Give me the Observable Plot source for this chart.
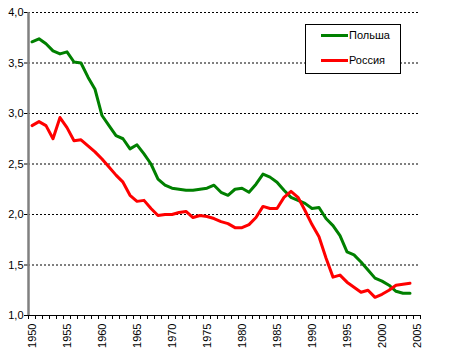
<!DOCTYPE html>
<html>
<head>
<meta charset="utf-8">
<script src="https://cdn.jsdelivr.net/npm/d3@7"></script>
<script src="https://cdn.jsdelivr.net/npm/@observablehq/plot@0.6"></script>
<style>
  body { margin: 0; background: #fff; }
  #wrap { position: relative; width: 450px; height: 355px; }
  #legend { position: absolute; left: 305px; top: 24px; width: 94px; height: 48px; background: #fff; border: 1px solid #000; font: 11px "Liberation Sans", Arial, sans-serif; }
  .item { position: absolute; left: 15px; display: flex; align-items: center; }
  .sw { width: 27px; height: 3px; margin-right: 1px; }
</style>
</head>
<body>
<div id="wrap"></div>
<script>
const years = d3.range(1950, 2005);
const poland = [3.71,3.74,3.69,3.62,3.59,3.61,3.51,3.50,3.36,3.24,2.98,2.88,2.78,2.75,2.65,2.69,2.60,2.50,2.35,2.29,2.26,2.25,2.24,2.24,2.25,2.26,2.29,2.22,2.19,2.25,2.26,2.22,2.30,2.40,2.37,2.32,2.24,2.17,2.14,2.11,2.06,2.07,1.96,1.89,1.79,1.63,1.60,1.53,1.45,1.37,1.34,1.30,1.24,1.22,1.22];
const russia = [2.88,2.92,2.88,2.75,2.96,2.86,2.73,2.74,2.68,2.62,2.55,2.47,2.39,2.32,2.19,2.13,2.14,2.06,1.99,2.00,2.00,2.02,2.03,1.97,1.99,1.98,1.96,1.93,1.91,1.87,1.87,1.90,1.97,2.08,2.06,2.06,2.17,2.23,2.17,2.04,1.90,1.78,1.57,1.38,1.40,1.33,1.28,1.23,1.25,1.18,1.21,1.25,1.30,1.31,1.32];
const yTicks = [1.0,1.5,2.0,2.5,3.0,3.5,4.0];
const xLabels = d3.range(1950, 2006, 5);
const seriesNames = ["Польша", "Россия"];
const colors = ["#008000", "#ff0000"];

const rows = [];
years.forEach((y, i) => {
  rows.push({year: y, v: poland[i], s: seriesNames[0]});
  rows.push({year: y, v: russia[i], s: seriesNames[1]});
});
const boundaries = d3.range(1949.5, 2006, 1);

const chart = Plot.plot({
  width: 450, height: 355,
  marginLeft: 28, marginRight: 30, marginTop: 12, marginBottom: 40,
  style: {fontFamily: '"Liberation Sans", Arial, sans-serif', fontSize: "11px", color: "#000", background: "#fff"},
  x: {domain: [1949.5, 2005.5]},
  y: {domain: [1, 4]},
  color: {domain: seriesNames, range: colors},
  marks: [
    Plot.ruleY(yTicks.filter(d => d > 1), {stroke: "#000", strokeDasharray: "2,2", strokeWidth: 1}),
    Plot.axisY({ticks: yTicks, tickFormat: d => d.toFixed(1).replace(".", ","), tickSize: 4, tickPadding: 1, label: null}),
    Plot.axisX({ticks: boundaries, tickFormat: () => "", tickSize: 4, label: null}),
    Plot.axisX({ticks: xLabels, tickFormat: d => String(d), tickSize: 0, tickPadding: 8, tickRotate: -90, label: null}),
    Plot.ruleY([1], {stroke: "#000", strokeWidth: 1}),
    Plot.ruleX([1949.5], {stroke: "#808080", strokeWidth: 2.5}),
    Plot.line(rows, {x: "year", y: "v", z: "s", stroke: "s", strokeWidth: 3, curve: "linear"})
  ]
});
const wrap = document.getElementById("wrap");
wrap.appendChild(chart);

const legend = document.createElement("div");
legend.id = "legend";
seriesNames.forEach((n, i) => {
  const it = document.createElement("div");
  it.className = "item";
  it.style.top = (i === 0 ? 4 : 29) + "px";
  it.innerHTML = `<span class="sw" style="background:${colors[i]}"></span><span>${n}</span>`;
  legend.appendChild(it);
});
wrap.appendChild(legend);
</script>
</body>
</html>
